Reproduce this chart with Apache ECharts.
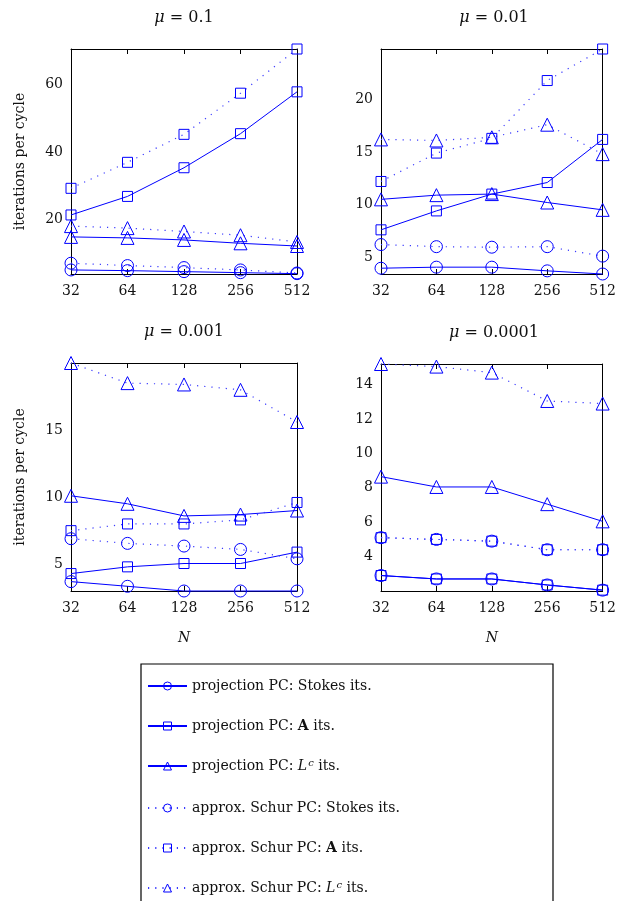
<!DOCTYPE html>
<html>
<head>
<meta charset="utf-8">
<title>iterations per cycle</title>
<script src="https://cdn.jsdelivr.net/npm/echarts@6/dist/echarts.min.js"></script>
<style>
  html, body { margin: 0; padding: 0; background: #fff; }
  #chart { width: 619px; height: 901px; }
</style>
</head>
<body>
<div id="chart"></div>
<script>
// mesh sizes (x axis)
const nValues = ['32', '64', '128', '256', '512']

// mu = 0.1
const projStokes1 = [5.0, 4.8, 4.5, 4.2, 3.9]
const projA1 = [21.3, 26.8, 35.3, 45.4, 57.8]
const projL1 = [14.8, 14.5, 13.9, 12.9, 12.1]
const schurStokes1 = [7.0, 6.3, 5.7, 5.0, 4.1]
const schurA1 = [29.2, 36.9, 45.2, 57.4, 70.5]
const schurL1 = [18.0, 17.4, 16.4, 15.3, 13.3]

// mu = 0.01
const projStokes2 = [3.95, 4.05, 4.05, 3.7, 3.4]
const projA2 = [7.6, 9.4, 11.0, 12.1, 16.2]
const projL2 = [10.5, 10.9, 11.0, 10.2, 9.5]
const schurStokes2 = [6.2, 6.0, 5.95, 6.0, 5.1]
const schurA2 = [12.2, 14.9, 16.3, 21.8, 24.8]
const schurL2 = [16.2, 16.1, 16.4, 17.6, 14.8]

// mu = 0.001
const projStokes3 = [3.7, 3.35, 3.0, 3.0, 3.0]
const projA3 = [4.3, 4.8, 5.05, 5.05, 5.9]
const projL3 = [10.1, 9.5, 8.6, 8.7, 9.0]
const schurStokes3 = [6.9, 6.55, 6.35, 6.1, 5.4]
const schurA3 = [7.5, 8.0, 8.0, 8.3, 9.6]
const schurL3 = [20.0, 18.5, 18.4, 18.0, 15.6]

// mu = 0.0001
const projStokes4 = [2.9, 2.7, 2.7, 2.35, 2.05]
const projA4 = [2.9, 2.7, 2.7, 2.35, 2.05]
const projL4 = [8.65, 8.05, 8.05, 7.05, 6.05]
const schurStokes4 = [5.1, 5.0, 4.9, 4.4, 4.4]
const schurA4 = [5.1, 5.0, 4.9, 4.4, 4.4]
const schurL4 = [15.2, 15.05, 14.7, 13.05, 12.9]

// y tick labels and ranges per panel
const yTicks = [[20, 40, 60], [5, 10, 15, 20], [5, 10, 15], [4, 6, 8, 10, 12, 14]]
const yRanges = [[3.8, 70.5], [3.4, 24.8], [3.0, 20.0], [2.0, 15.2]]
const panelTitles = ['0.1', '0.01', '0.001', '0.0001']

const seriesNames = [
  'projection PC: Stokes its.',
  'projection PC: A its.',
  'projection PC: Lc its.',
  'approx. Schur PC: Stokes its.',
  'approx. Schur PC: A its.',
  'approx. Schur PC: Lc its.'
]
const legendLabels = [
  'projection PC: Stokes its.',
  'projection PC: {b|A} its.',
  'projection PC: {i|L}{sup|c} its.',
  'approx. Schur PC: Stokes its.',
  'approx. Schur PC: {b|A} its.',
  'approx. Schur PC: {i|L}{sup|c} its.'
]

const panelData = [
  [projStokes1, projA1, projL1, schurStokes1, schurA1, schurL1],
  [projStokes2, projA2, projL2, schurStokes2, schurA2, schurL2],
  [projStokes3, projA3, projL3, schurStokes3, schurA3, schurL3],
  [projStokes4, projA4, projL4, schurStokes4, schurA4, schurL4]
]

const BLUE = '#0000ff'
const FONT = 'DejaVu Serif'
const symbols = ['circle', 'rect', 'triangle']
const symbolSizes = [12, 10, 13]

const grids = [
  { left: 71, top: 49, width: 226, height: 225 },
  { left: 381, top: 49, width: 226, height: 225 },
  { left: 71, top: 363, width: 226, height: 228 },
  { left: 381, top: 364, width: 226, height: 227 }
]

const frameLine = { show: true, onZero: false, lineStyle: { color: '#000', width: 1 } }

const xAxes = []
const yAxes = []
const series = []

grids.forEach((g, p) => {
  const bottomRow = p >= 2
  const leftCol = p % 2 === 0
  xAxes.push({
    type: 'category',
    gridIndex: p,
    data: nValues,
    boundaryGap: false,
    position: 'bottom',
    axisLine: frameLine,
    axisTick: { inside: true, length: 5, lineStyle: { color: '#000' } },
    axisLabel: { color: '#111', fontFamily: FONT, fontSize: 14, margin: 10 },
    name: bottomRow ? 'N' : '',
    nameLocation: 'middle',
    nameGap: 40,
    nameTextStyle: { color: '#111', fontFamily: FONT, fontSize: 14, fontStyle: 'italic' }
  })
  xAxes.push({
    type: 'category',
    gridIndex: p,
    data: nValues,
    boundaryGap: false,
    position: 'top',
    axisLine: frameLine,
    axisTick: { inside: true, length: 5, lineStyle: { color: '#000' } },
    axisLabel: { show: false }
  })
  const yBase = {
    type: 'value',
    gridIndex: p,
    min: yRanges[p][0],
    max: yRanges[p][1],
    splitLine: { show: false },
    axisLine: frameLine
  }
  yAxes.push(Object.assign({}, yBase, {
    position: 'left',
    axisTick: { inside: true, length: 5, customValues: yTicks[p], lineStyle: { color: '#000' } },
    axisLabel: { color: '#111', fontFamily: FONT, fontSize: 14, margin: 8, customValues: yTicks[p] },
    name: leftCol ? 'iterations per cycle' : '',
    nameLocation: 'middle',
    nameGap: 44,
    nameTextStyle: { color: '#111', fontFamily: FONT, fontSize: 14 }
  }))
  yAxes.push(Object.assign({}, yBase, {
    position: 'right',
    axisTick: { inside: true, length: 5, customValues: yTicks[p], lineStyle: { color: '#000' } },
    axisLabel: { show: false }
  }))

  panelData[p].forEach((values, s) => {
    const dotted = s >= 3
    series.push({
      name: seriesNames[s],
      type: 'line',
      xAxisIndex: p * 2,
      yAxisIndex: p * 2,
      data: values,
      clip: false,
      symbol: symbols[s % 3],
      symbolSize: symbolSizes[s % 3],
      showAllSymbol: true,
      itemStyle: { color: 'rgba(0,0,0,0)', borderColor: BLUE, borderWidth: 1 },
      lineStyle: dotted
        ? { color: '#3a3aff', width: 1.2, type: [1.2, 6] }
        : { color: BLUE, width: 1 },
      emphasis: { disabled: true },
      animation: false
    })
  })
})

const titleGraphics = grids.map((g, p) => ({
  type: 'text',
  x: g.left + g.width / 2,
  y: g.top - 31,
  style: {
    text: '{i|μ} = ' + panelTitles[p],
    textAlign: 'center',
    textVerticalAlign: 'middle',
    fill: '#111',
    font: '16px ' + FONT,
    rich: {
      i: { fontStyle: 'italic', fontSize: 16, fontFamily: FONT }
    }
  }
}))

const chart = echarts.init(document.getElementById('chart'), null, { renderer: 'canvas' })
chart.setOption({
  animation: false,
  backgroundColor: '#fff',
  grid: grids,
  xAxis: xAxes,
  yAxis: yAxes,
  series: series,
  legend: {
    data: seriesNames,
    orient: 'vertical',
    left: 147,
    top: 678,
    height: 240,
    padding: 0,
    itemWidth: 39,
    itemHeight: 10,
    itemGap: 24,
    selectedMode: false,
    itemStyle: { color: 'rgba(0,0,0,0)', borderColor: BLUE, borderWidth: 1 },
    formatter: (name) => legendLabels[seriesNames.indexOf(name)],
    textStyle: {
      color: '#111',
      fontFamily: FONT,
      fontSize: 14,
      lineHeight: 16,
      rich: {
        b: { fontWeight: 'bold', fontFamily: FONT, fontSize: 14, lineHeight: 16, color: '#111' },
        i: { fontStyle: 'italic', fontFamily: FONT, fontSize: 14, lineHeight: 16, color: '#111' },
        sup: { fontStyle: 'italic', fontFamily: FONT, fontSize: 10, lineHeight: 10, verticalAlign: 'top', color: '#111', padding: [0, 0, 8, 1] }
      }
    }
  },
  graphic: titleGraphics.concat([
    {
      type: 'rect',
      shape: { x: 141, y: 664, width: 412, height: 260 },
      style: { fill: 'none', stroke: '#000', lineWidth: 1.2 },
      z: 1
    }
  ])
})
</script>
</body>
</html>
